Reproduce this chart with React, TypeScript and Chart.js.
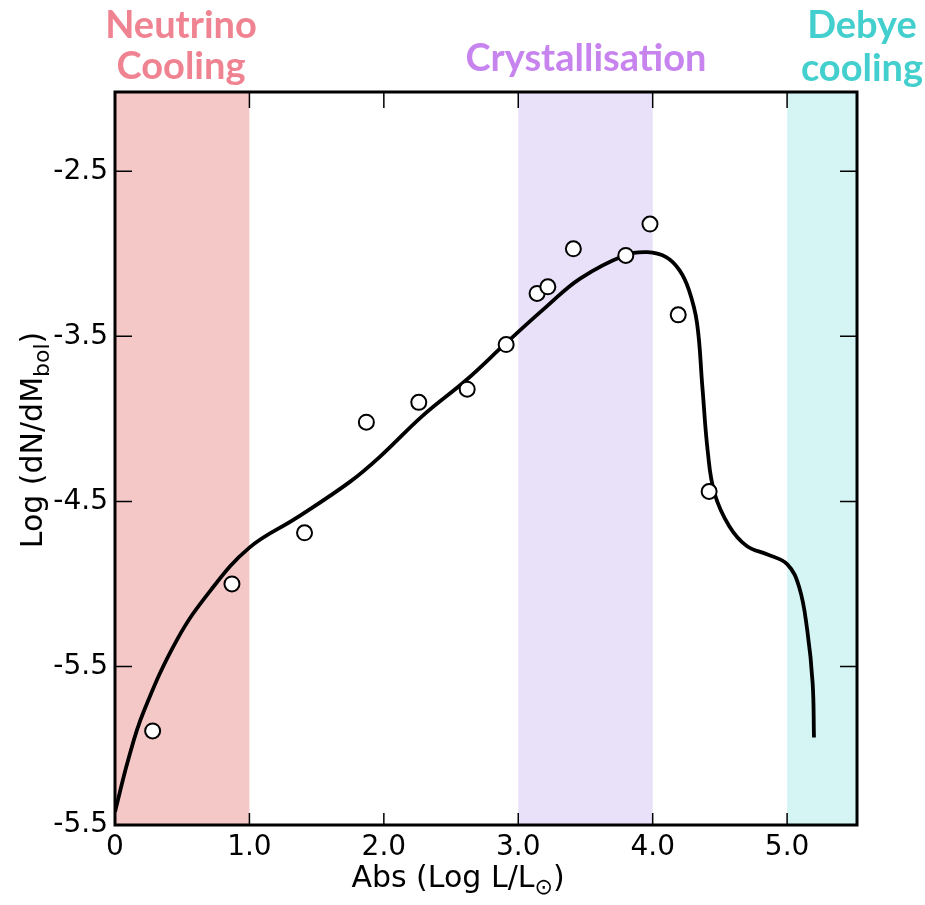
import { useEffect, useRef } from "react";
import { Chart, registerables } from "chart.js";

Chart.register(...registerables);

// ---- data ----
const curveX = [0, 0.1, 0.21, 0.46, 0.71, 1.0, 1.35, 1.75, 1.97, 2.29, 2.62, 2.91, 3.21, 3.46, 3.79, 3.96, 4.1, 4.2, 4.27, 4.33, 4.37, 4.41, 4.46, 4.57, 4.7, 4.85, 5.0, 5.09, 5.15, 5.19, 5.2];
const curveY = [-6.38, -6.06, -5.78, -5.34, -5.04, -4.78, -4.6, -4.38, -4.23, -3.98, -3.76, -3.54, -3.32, -3.15, -3.01, -2.99, -3.02, -3.1, -3.22, -3.42, -3.81, -4.2, -4.45, -4.65, -4.77, -4.82, -4.88, -5.02, -5.28, -5.6, -5.93];

const obsX = [0.28, 0.87, 1.41, 1.87, 2.26, 2.62, 2.91, 3.14, 3.22, 3.41, 3.8, 3.98, 4.19, 4.42];
const obsY = [-5.89, -5.0, -4.69, -4.02, -3.9, -3.82, -3.55, -3.24, -3.2, -2.97, -3.01, -2.82, -3.37, -4.44];

const xTickValues = [0, 1, 2, 3, 4, 5];
const xTickLabels = ["0", "1.0", "2.0", "3.0", "4.0", "5.0"];
const yTickValues = [-6.46, -5.5, -4.5, -3.5, -2.5];
const yTickLabels = ["-5.5", "-5.5", "-4.5", "-3.5", "-2.5"];

const bandStart = [0, 3, 5];
const bandEnd = [1, 4, 5.52];
const bandColors = ["#f5c8c8", "#e9e1f9", "#d4f5f4"];
const bandTitles = [["Neutrino", "Cooling"], ["Crystallisation"], ["Debye", "cooling"]];
const bandTitleColors = ["#f08391", "#c784ee", "#43cfcd"];

const X_MIN = 0, X_MAX = 5.52, Y_MIN = -6.46, Y_MAX = -2.02;

const FONT = "'DejaVu Sans', 'Liberation Sans', sans-serif";
const TITLE_FONT = "'Lato', 'Open Sans', sans-serif";

const bandsPlugin = {
  id: "bands",
  beforeDatasetsDraw(chart: any) {
    const { ctx, chartArea, scales } = chart;
    ctx.save();
    for (let i = 0; i < bandStart.length; i++) {
      const x0 = scales.x.getPixelForValue(bandStart[i]);
      const x1 = scales.x.getPixelForValue(bandEnd[i]);
      ctx.fillStyle = bandColors[i];
      ctx.fillRect(x0, chartArea.top, x1 - x0, chartArea.bottom - chartArea.top);
    }
    ctx.restore();
  },
};

function drawSub(ctx: CanvasRenderingContext2D, parts: [string, boolean][], cx: number, cy: number, size: number) {
  const big = `${size}px ${FONT}`;
  const small = `${Math.round(size * 0.72)}px ${FONT}`;
  let total = 0;
  for (const [t, sub] of parts) {
    ctx.font = sub ? small : big;
    total += ctx.measureText(t).width;
  }
  let x = cx - total / 2;
  ctx.textBaseline = "middle";
  ctx.textAlign = "left";
  for (const [t, sub] of parts) {
    ctx.font = sub ? small : big;
    ctx.fillText(t, x, sub ? cy + size * 0.3 : cy);
    x += ctx.measureText(t).width;
  }
}

const framePlugin = {
  id: "frame",
  afterDatasetsDraw(chart: any) {
    const { ctx, chartArea: a, scales } = chart;
    ctx.save();
    ctx.strokeStyle = "#000";
    ctx.lineWidth = 1.5;
    for (let i = 1; i < xTickValues.length; i++) {
      const px = scales.x.getPixelForValue(xTickValues[i]);
      ctx.beginPath();
      ctx.moveTo(px, a.bottom);
      ctx.lineTo(px, a.bottom - 12);
      ctx.moveTo(px, a.top);
      ctx.lineTo(px, a.top + 16);
      ctx.stroke();
    }
    for (let i = 1; i < yTickValues.length; i++) {
      const py = scales.y.getPixelForValue(yTickValues[i]);
      ctx.beginPath();
      ctx.moveTo(a.left, py);
      ctx.lineTo(a.left + 17, py);
      ctx.moveTo(a.right, py);
      ctx.lineTo(a.right - 17, py);
      ctx.stroke();
    }
    ctx.lineWidth = 3;
    ctx.strokeRect(a.left, a.top, a.right - a.left, a.bottom - a.top);
    ctx.restore();
  },
  afterDraw(chart: any) {
    const { ctx } = chart;
    ctx.save();
    ctx.fillStyle = "#000";
    drawSub(ctx, [["Abs (Log L/L", false], ["\u2299", true], [")", false]], 458, 879, 30);
    ctx.translate(34, 440);
    ctx.rotate(-Math.PI / 2);
    drawSub(ctx, [["Log (dN/dM", false], ["bol", true], [")", false]], 0, 0, 30);
    ctx.restore();

    const pos = [
      [181, [38, 79]],
      [586, [71]],
      [862, [38, 81]],
    ] as [number, number[]][];
    ctx.save();
    ctx.font = `bold 38px ${TITLE_FONT}`;
    ctx.textAlign = "center";
    ctx.textBaseline = "alphabetic";
    for (let i = 0; i < bandTitles.length; i++) {
      ctx.fillStyle = bandTitleColors[i];
      bandTitles[i].forEach((line, j) => {
        ctx.fillText(line, pos[i][0], pos[i][1][j]);
      });
    }
    ctx.restore();
  },
};

export default function App() {
  const ref = useRef<HTMLCanvasElement | null>(null);
  useEffect(() => {
    if (!ref.current) return;
    const chart = new Chart(ref.current, {
      type: "line",
      data: {
        datasets: [
          {
            type: "scatter",
            data: obsX.map((x, i) => ({ x, y: obsY[i] })),
            showLine: false,
            pointStyle: "circle",
            pointRadius: 7.5,
            pointBackgroundColor: "#ffffff",
            pointBorderColor: "#000000",
            pointBorderWidth: 2,
            order: 0,
          } as any,
          {
            type: "line",
            data: curveX.map((x, i) => ({ x, y: curveY[i] })),
            borderColor: "#000000",
            borderWidth: 3.8,
            pointRadius: 0,
            tension: 0.4,
            fill: false,
            order: 1,
          } as any,
        ],
      },
      options: {
        animation: false,
        responsive: false,
        maintainAspectRatio: false,
        layout: { padding: { top: 92, right: 68, left: 0, bottom: 0 } },
        plugins: { legend: { display: false }, tooltip: { enabled: false } },
        scales: {
          x: {
            type: "linear",
            min: X_MIN,
            max: X_MAX,
            grid: { display: false, drawTicks: false },
            border: { display: false },
            afterBuildTicks: (s: any) => {
              s.ticks = xTickValues.map((v) => ({ value: v }));
            },
            afterFit: (s: any) => {
              s.height = 80;
            },
            ticks: {
              padding: 6,
              color: "#000",
              font: { family: FONT, size: 28 },
              maxRotation: 0,
              autoSkip: false,
              callback: (v: any) => {
                const i = xTickValues.indexOf(Number(v));
                return i >= 0 ? xTickLabels[i] : "";
              },
            },
          },
          y: {
            type: "linear",
            min: Y_MIN,
            max: Y_MAX,
            grid: { display: false, drawTicks: false },
            border: { display: false },
            afterBuildTicks: (s: any) => {
              s.ticks = yTickValues.map((v) => ({ value: v }));
            },
            afterFit: (s: any) => {
              s.width = 115;
            },
            ticks: {
              padding: 7,
              color: "#000",
              font: { family: FONT, size: 28 },
              autoSkip: false,
              callback: (v: any) => {
                const i = yTickValues.indexOf(Number(v));
                return i >= 0 ? yTickLabels[i] : "";
              },
            },
          },
        },
      },
      plugins: [bandsPlugin, framePlugin],
    });
    return () => chart.destroy();
  }, []);
  return (
    <div style={{ position: "absolute", left: 0, top: 0, width: 925, height: 905, background: "#fff" }}>
      <canvas ref={ref} width={925} height={905} style={{ display: "block" }} />
    </div>
  );
}
